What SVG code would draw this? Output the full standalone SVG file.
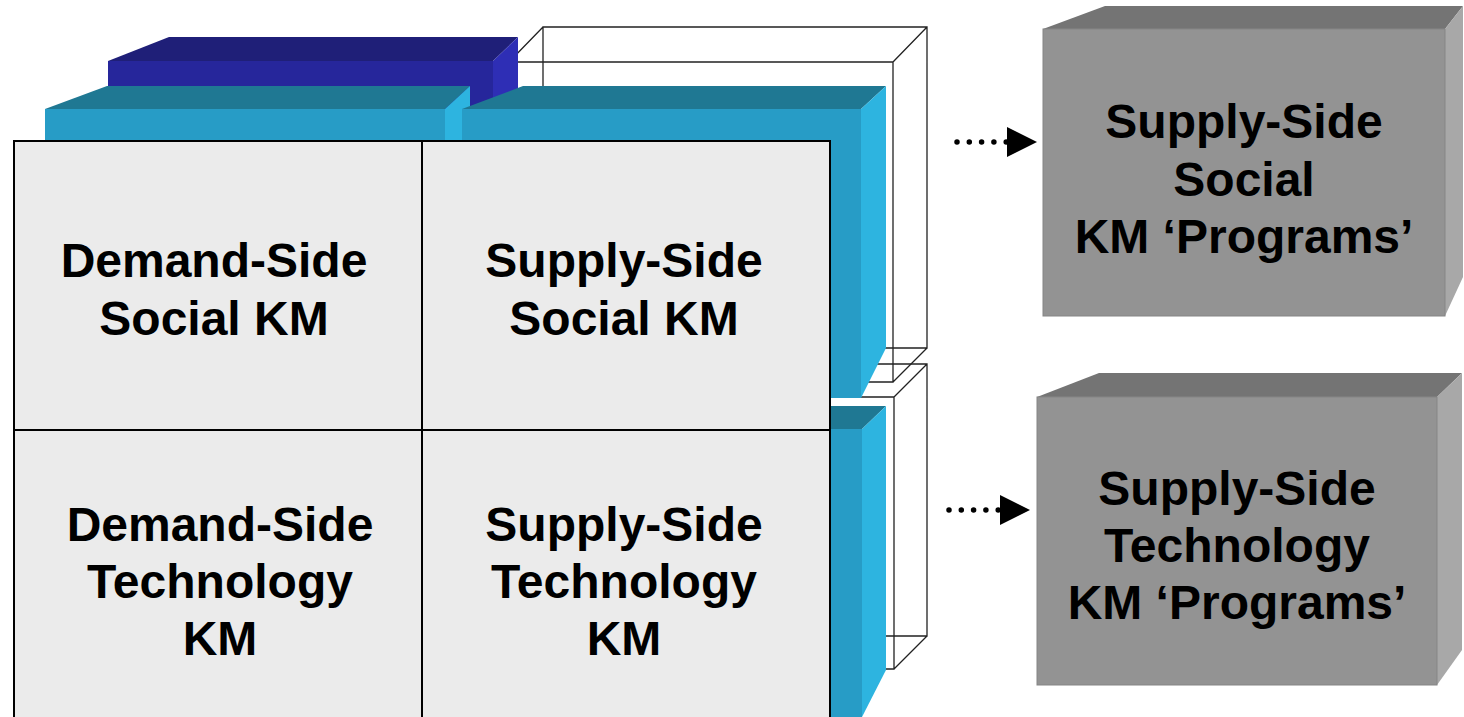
<svg xmlns="http://www.w3.org/2000/svg" width="1464" height="717" viewBox="0 0 1464 717">
<style>
.wire{fill:none;stroke:#222;stroke-width:1.3}
.dbTop{fill:#1f1f78}.dbFront{fill:#26269b}.dbSide{fill:#2e2eb5}
.tTop{fill:#1f7893}.tFront{fill:#279cc6}.tSide{fill:#2db4e0}
.gTop{fill:#747474}.gFront{fill:#939393;stroke:#858585;stroke-width:1}.gSide{fill:#a8a8a8}
.cell{fill:#ebebeb;stroke:#000;stroke-width:2}
.lbl{font-family:"Liberation Sans",Arial,sans-serif;font-weight:bold;font-size:48px;fill:#000;text-anchor:middle}
.dots{stroke:#000;stroke-width:5.5;stroke-linecap:round;stroke-dasharray:0 12.3;fill:none}
</style>
<defs>
<marker id="head" markerUnits="userSpaceOnUse" markerWidth="32" markerHeight="32" refX="1" refY="15" orient="auto">
<path d="M0,0 L30,15 L0,30 Z" fill="#000"/>
</marker>
</defs>

<!-- wireframe boxes (background) -->
<g id="wire-upper">
<path class="wire" d="M543,348 V27 H927 V348 H543 M509,62 H893 V382 H509 Z M509,62 L543,27 M893,62 L927,27 M893,382 L927,348 M509,382 L543,348"/>
</g>
<g id="wire-lower">
<path class="wire" d="M543,636 V364 H927 V636 H543 M509,397 H894 V669 H509 Z M509,397 L543,364 M894,397 L927,364 M894,669 L927,636 M509,669 L543,636"/>
</g>

<!-- dark blue layer -->
<g id="layer-darkblue">
<polygon class="dbTop" points="108,61 169,37 518,37 493,61"/>
<rect class="dbFront" x="108" y="61" width="385" height="80"/>
<polygon class="dbSide" points="493,61 518,37 518,120 493,141"/>
</g>

<!-- teal layer -->
<g id="layer-teal-demand-social">
<polygon class="tTop" points="45,109 107,86 470,86 445,109"/>
<rect class="tFront" x="45" y="109" width="400" height="330"/>
<polygon class="tSide" points="445,109 470,86 470,400 445,439"/>
</g>
<g id="layer-teal-supply-social">
<polygon class="tTop" points="462,109 523,86 886,86 861,109"/>
<rect class="tFront" x="462" y="109" width="399" height="289"/>
<polygon class="tSide" points="861,109 886,86 886,348 861,398"/>
</g>
<g id="layer-teal-supply-tech">
<polygon class="tTop" points="462,429 523,406 886,406 862,429"/>
<rect class="tFront" x="462" y="429" width="400" height="300"/>
<polygon class="tSide" points="862,429 886,406 886,670 862,717"/>
</g>

<!-- grid -->
<g id="cell-demand-social">
<rect class="cell" x="14" y="141" width="408" height="289"/>
<text class="lbl" x="214" y="277">Demand-Side</text>
<text class="lbl" x="214" y="335">Social KM</text>
</g>
<g id="cell-supply-social">
<rect class="cell" x="422" y="141" width="408" height="289"/>
<text class="lbl" x="624" y="277">Supply-Side</text>
<text class="lbl" x="624" y="335">Social KM</text>
</g>
<g id="cell-demand-tech">
<rect class="cell" x="14" y="430" width="408" height="300"/>
<text class="lbl" x="220" y="541">Demand-Side</text>
<text class="lbl" x="220" y="598">Technology</text>
<text class="lbl" x="220" y="655">KM</text>
</g>
<g id="cell-supply-tech">
<rect class="cell" x="422" y="430" width="408" height="300"/>
<text class="lbl" x="624" y="541">Supply-Side</text>
<text class="lbl" x="624" y="598">Technology</text>
<text class="lbl" x="624" y="655">KM</text>
</g>

<!-- program boxes -->
<g id="prog-social">
<polygon class="gTop" points="1043,29 1105,6 1463,6 1445,29"/>
<polygon class="gSide" points="1445,29 1463,6 1463,277 1445,316"/>
<rect class="gFront" x="1043" y="29" width="402" height="287"/>
<text class="lbl" x="1244" y="138">Supply-Side</text>
<text class="lbl" x="1244" y="196">Social</text>
<text class="lbl" x="1244" y="253">KM ‘Programs’</text>
</g>
<g id="prog-tech">
<polygon class="gTop" points="1037,397 1099,373 1462,373 1437,397"/>
<polygon class="gSide" points="1437,397 1462,373 1462,650 1437,685"/>
<rect class="gFront" x="1037" y="397" width="400" height="288"/>
<text class="lbl" x="1237" y="505">Supply-Side</text>
<text class="lbl" x="1237" y="562">Technology</text>
<text class="lbl" x="1237" y="619">KM ‘Programs’</text>
</g>

<!-- connectors -->
<g id="connectors">
<line class="dots" x1="957" y1="142" x2="1008" y2="142" marker-end="url(#head)"/>
<line class="dots" x1="949" y1="510" x2="1001" y2="510" marker-end="url(#head)"/>
</g>
</svg>
